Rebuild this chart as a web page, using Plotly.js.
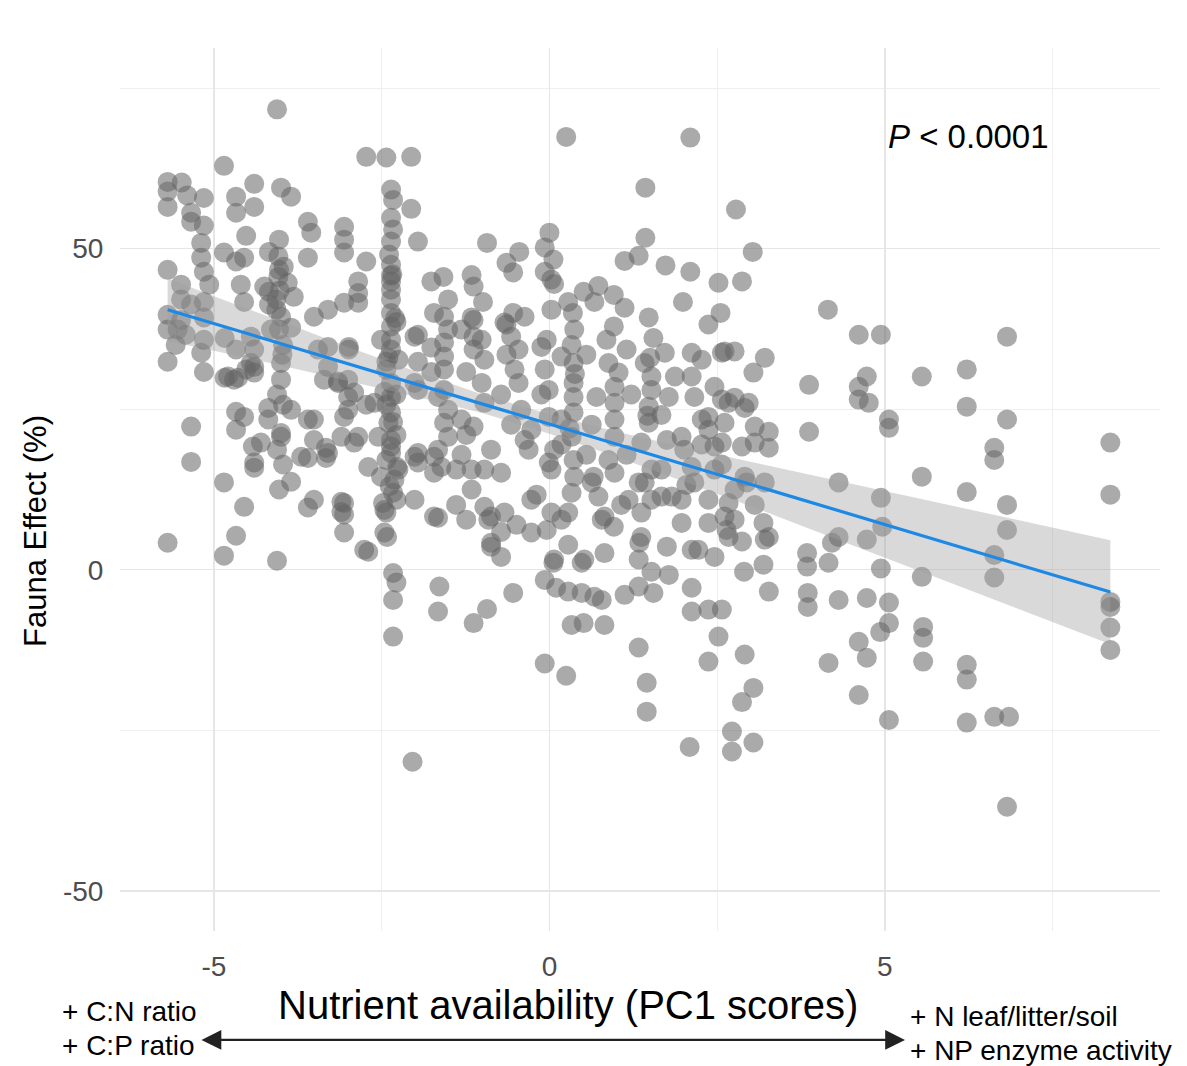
<!DOCTYPE html>
<html>
<head>
<meta charset="utf-8">
<script src="https://cdn.plot.ly/plotly-3.0.1.min.js"></script>
<style>html,body{margin:0;padding:0;background:#fff;}#chart{width:1187px;height:1066px;}</style>
</head>
<body>
<div id="chart"></div>
<script>
// PC1 scores (nutrient availability) for each observation
const pc1Scores = [
-5.69,-5.48,-5.69,-5.40,-5.69,-5.34,-5.34,-5.15,-5.15,-5.19,
-5.19,-5.69,-5.49,-5.49,-5.69,-5.49,-5.69,-5.42,-5.69,-5.15,
-5.15,-5.15,-5.15,-5.15,-5.34,-5.34,-5.69,-5.07,-5.34,-5.57,
-4.85,-4.40,-4.67,-4.67,-4.40,-4.52,-4.55,-4.85,-4.55,-4.06,
-4.00,-3.85,-3.60,-3.55,-4.18,-4.04,-3.60,-3.96,-4.04,-3.90,
-4.25,-4.07,-4.00,-3.81,-4.03,-3.51,-3.30,-3.06,-2.85,-2.85,
-4.40,-4.40,-4.00,-4.00,-3.45,-3.30,-3.15,-2.99,-3.00,-3.00,
-2.73,-4.45,-5.19,-5.54,-4.79,-4.70,-4.45,-4.64,-4.40,-4.67,
-4.55,-4.19,-4.19,-3.85,-4.00,-4.42,-4.40,-4.03,-3.85,-4.55,
-4.85,-3.60,-3.51,-3.60,-3.33,-3.33,-3.10,-3.10,-3.00,-2.85,
-3.10,-3.06,-2.70,-2.51,-2.40,-2.36,-2.25,-2.01,-2.01,-2.48,
-1.72,-1.72,-3.51,-2.99,-3.15,-3.36,-3.30,-2.51,-2.43,-2.01,
-1.96,-1.76,-1.76,-2.91,-2.61,-2.46,-4.15,-3.85,-4.30,-4.00,
-3.70,-3.30,-3.51,-4.40,-3.60,-2.91,-3.06,-3.06,-2.76,-2.46,
-2.46,-2.55,-4.67,-4.60,-4.84,-4.67,-4.84,-4.67,-4.18,-4.18,
-4.52,-4.67,-4.85,-4.06,-3.06,-2.70,-2.43,-2.42,-2.33,-2.28,
-2.33,-2.33,-2.04,-1.66,-1.64,-1.66,-1.13,-0.93,-0.54,-0.87,
-0.72,-0.91,-0.72,-0.27,-0.07,0.25,0.06,-0.07,0.10,0.28,
0.48,0.67,0.78,0.48,0.28,0.33,0.51,0.82,0.82,0.96,
1.12,1.33,1.55,1.52,1.78,1.33,1.34,1.75,1.33,1.45,
1.45,2.12,2.12,2.37,2.57,2.52,2.37,2.09,2.72,2.72,
2.22,1.97,2.87,2.90,3.27,3.19,3.21,2.91,3.04,2.87,
3.04,3.84,3.84,3.85,3.85,4.31,4.21,4.31,4.16,4.73,
4.96,4.73,4.94,5.06,5.06,4.93,4.61,4.73,4.16,4.61,
5.06,5.55,5.57,5.57,5.57,6.22,6.22,6.22,6.63,6.85,
6.82,6.63,6.63,6.82,8.36,8.36,8.36,8.36,2.76,2.64,
4.61,4.94,6.82,5.55,6.22,6.22,6.82,8.36,8.36,6.63,
6.63,5.55,6.22,6.82,4.94,5.06,5.06,4.61,4.73,4.61,
4.76,3.87,3.87,4.31,3.21,3.04,2.76,2.61,2.91,2.76,
3.06,3.27,3.27,2.87,3.06,2.91,3.21,2.76,3.06,2.78,
3.03,2.87,4.15,0.25,2.10,1.43,-0.93,0.00,-0.07,0.06,
-0.07,0.07,-0.45,-0.64,-0.54,1.43,1.33,1.12,1.73,2.10,
2.52,1.99,2.55,2.37,1.48,0.96,1.12,0.73,0.51,0.67,
0.28,0.03,-1.58,-1.51,-1.72,-1.16,-1.13,-0.99,-1.16,-0.54,
-0.37,-0.64,0.96,-2.73,-2.43,-2.06,-2.36,-2.36,-2.06,-3.06,
-3.06,-3.06,-1.96,-2.36,-2.73,-2.36,-2.85,-2.36,-2.36,-1.76,
-0.67,0.03,-2.36,-2.36,-2.36,-2.36,-2.36,-2.25,-1.96,-1.57,
-1.51,-1.57,-1.57,-1.13,-1.13,-1.13,-0.97,-0.57,-0.46,-0.52,
-0.46,-0.12,-0.07,-0.01,-2.36,-2.36,-2.36,-2.36,-2.36,-2.31,
-2.33,-2.01,-1.96,-1.66,-1.57,-1.51,-1.66,-1.61,-1.96,-1.96,
-1.72,-1.01,-0.97,-1.13,-1.16,-0.97,-0.72,-0.87,-0.37,-0.31,
-0.01,-0.01,-0.27,-0.97,-0.87,-0.67,-0.87,-2.33,-2.33,-2.39,
-2.28,-2.43,-2.28,-2.43,-2.28,-2.43,-2.28,-4.03,-4.03,-4.07,
-3.97,-4.06,-3.97,-4.06,-3.97,1.55,0.37,0.85,-0.04,0.18,
0.36,0.36,0.36,0.36,0.33,0.07,0.03,0.36,0.37,0.66,
0.33,0.73,0.28,0.03,0.52,0.07,0.82,0.88,0.97,0.97,
0.97,0.97,0.88,0.97,0.70,1.03,1.42,1.52,1.52,1.48,
1.48,1.37,1.52,1.42,1.52,1.37,1.37,1.72,2.12,1.87,
2.12,2.27,2.57,2.46,2.67,2.97,1.78,2.16,2.37,2.61,
1.97,2.37,2.01,2.46,2.12,2.46,2.57,2.16,2.94,2.67,
2.37,1.97,1.82,1.67,2.37,2.61,2.67,2.12,2.46,3.27,
3.19,1.33,1.18,0.63,-1.57,-1.57,-1.51,-1.31,-1.24,-1.01,
-0.64,-0.72,-0.42,-0.57,-0.27,-1.31,-1.39,-0.12,0.18,0.18,
0.55,0.63,0.55,1.15,1.22,1.15,1.67,1.75,2.27,2.27,
2.57,2.57,1.67,2.04,1.07,0.78,-0.19,0.18,-0.04,-0.49,
-1.16,-1.39,-1.24,-1.31,-1.24,-2.36,-2.30,-2.40,-2.33,-2.27,
0.33,0.38,0.30,1.50,1.46,-4.02,-3.98,-2.34,-2.38,0.35
];
// Fauna effect (%) for each observation (same order)
const faunaEffect = [
60.4,60.3,58.9,58.3,56.5,55.6,54.2,57.9,53.6,50.9,
48.6,46.7,44.4,42.1,39.7,38.9,37.4,36.6,32.4,46.4,
41.7,39.3,35.8,30.8,22.3,16.8,4.2,44.4,41.3,35.0,
62.9,60.1,58.1,55.6,56.5,52.0,48.6,49.4,41.7,71.7,
59.5,58.1,54.2,52.5,49.5,48.8,48.6,47.2,45.6,44.7,
44.1,42.1,39.4,42.5,37.4,39.4,40.5,41.6,41.6,43.1,
34.3,31.6,32.2,29.6,34.3,31.6,29.1,34.3,29.6,26.9,
25.7,36.3,33.8,37.4,30.1,29.6,32.2,29.9,30.7,24.6,
23.8,25.2,23.4,24.9,21.3,19.2,15.9,12.5,13.7,9.8,
13.6,23.4,20.2,17.4,17.4,19.0,10.6,9.0,24.9,20.7,
20.7,23.8,16.0,14.5,22.9,19.2,15.6,17.6,10.9,10.4,
17.6,15.1,10.9,34.7,29.3,29.6,34.7,35.8,32.4,36.3,
32.4,34.6,30.8,27.6,26.0,27.7,37.4,37.7,19.8,20.7,
17.6,18.2,23.4,16.7,9.7,19.8,10.4,5.8,3.1,5.8,
9.3,20.7,48.0,44.4,36.1,34.3,29.9,21.8,43.3,41.3,
31.2,5.3,2.2,1.4,8.6,2.8,8.9,5.1,-0.5,-2.0,
-4.7,-10.4,-29.9,8.1,-2.6,-6.5,-8.3,-6.1,-3.6,3.6,
2.0,7.8,5.9,5.8,-14.6,-16.5,1.1,-1.6,-2.8,-3.4,
-3.6,-4.2,-4.7,1.1,3.9,-8.6,-8.3,-8.6,2.6,6.7,
-3.9,-2.6,-3.6,-0.3,-0.8,1.6,4.2,3.6,-12.1,-17.6,
-22.1,-2.8,-6.5,-6.2,-6.2,-10.4,-14.3,-27.6,-25.2,-28.3,
3.1,7.3,4.4,-0.3,-3.4,0.8,4.7,-13.2,-18.4,-20.6,
-26.9,2.6,0.5,-3.6,-5.8,-4.7,4.2,5.1,1.1,4.7,
6.7,-4.4,0.2,-5.1,-8.3,-9.7,-11.2,-13.7,-14.5,-19.5,
-23.4,-1.1,-8.9,-10.6,-14.3,-14.8,-17.1,-23.8,-22.9,-22.9,
-36.9,2.3,-1.2,6.2,-5.0,-5.8,-9.0,-12.5,7.8,6.2,
36.6,36.6,36.3,30.1,31.2,25.4,23.4,19.8,11.7,19.0,
17.1,14.5,12.1,10.1,11.2,23.4,22.1,28.5,30.1,26.5,
26.0,28.8,21.5,13.6,33.0,30.7,34.0,34.0,25.2,26.8,
22.3,21.5,19.0,19.2,19.8,14.5,13.6,12.5,10.1,56.1,
49.5,44.9,40.5,67.4,67.3,59.5,50.9,52.5,50.2,48.3,
46.4,44.5,49.5,47.8,46.3,51.7,48.9,48.1,47.4,46.4,
44.7,41.7,40.0,38.2,39.3,42.8,40.8,44.2,43.3,41.7,
41.7,40.5,45.6,42.1,40.0,45.9,44.1,41.7,39.3,40.0,
39.4,38.2,37.9,64.3,64.2,64.3,59.2,54.8,56.2,53.4,
51.4,49.4,51.1,51.1,48.0,47.5,44.9,44.9,43.6,44.9,
38.5,45.2,42.1,40.0,37.9,35.8,34.3,32.7,36.6,39.4,
37.4,35.4,33.2,38.9,36.3,34.3,32.7,36.3,34.3,31.2,
29.1,34.7,31.2,28.0,29.1,26.9,24.5,20.2,18.2,14.0,
12.0,29.1,28.0,26.9,22.9,20.7,18.7,16.0,18.2,16.7,
8.3,29.1,26.0,22.3,15.6,15.6,15.1,18.7,20.2,18.7,
23.8,16.7,10.9,9.8,8.3,8.9,4.2,57.6,53.0,49.1,
38.6,31.2,27.3,25.7,21.0,17.1,10.9,51.4,46.7,40.5,
35.0,27.3,25.7,18.7,16.4,36.1,37.4,35.8,35.8,33.2,
32.2,29.1,26.9,24.5,20.7,18.7,15.6,17.1,14.5,14.5,
12.0,11.4,8.9,8.9,1.6,1.6,8.3,32.2,28.5,26.0,
23.4,20.7,17.1,15.1,26.9,30.7,32.2,30.1,28.0,25.4,
22.9,19.8,15.6,13.6,10.9,8.9,5.1,33.8,33.8,30.1,
30.1,32.7,33.8,28.5,26.0,26.0,26.9,26.9,23.8,22.9,
20.7,21.8,18.7,19.2,16.0,15.6,19.8,13.6,13.6,10.4,
10.9,10.9,11.4,11.4,7.3,8.3,5.1,3.1,2.0,5.1,
7.3,13.6,10.9,13.6,31.2,28.0,24.9,37.4,30.8,35.8,
33.5,27.3,24.9,22.6,21.8,17.9,15.6,27.3,23.4,19.5,
33.5,22.6,17.9,34.3,27.3,17.9,24.1,20.2,23.4,19.5,
26.5,16.4,15.6,13.2,10.1,7.8,11.7,7.8,6.2,7.0,
12.5,10.1,7.8,23.4,21.0,45.8,39.2,33.0,23.0,16.0,
35.0,30.5,22.0,33.0,24.0,43.5,33.5,46.0,13.0,40.0
];

// Linear fit (end points) and its confidence band
const fitX = [-5.69, 8.36];
const fitY = [40.5, -3.47];
const bandX = [-5.69, -5, -4, -3, -2, -1, 0, 1, 2, 3, 4, 5, 6, 7, 8.36];
const bandLower = [35.6, 34.1, 31.8, 29.4, 27.0, 24.4, 21.2, 17.6, 13.8, 9.9, 5.9, 1.9, -2.1, -6.1, -11.6];
const bandUpper = [45.4, 42.6, 38.7, 34.7, 30.9, 27.3, 24.2, 21.5, 19.1, 16.8, 14.5, 12.2, 9.9, 7.7, 4.6];

const xTickVals = [-5, 0, 5];
const yTickVals = [-50, 0, 50];

const FONT = '"Liberation Sans", Arial, Helvetica, sans-serif';

const traces = [
  {
    type: 'scatter', mode: 'markers', x: pc1Scores, y: faunaEffect,
    marker: {size: 20, color: 'rgba(100,100,100,0.55)', line: {width: 0}},
    hoverinfo: 'x+y', showlegend: false
  },
  {
    type: 'scatter', mode: 'lines', x: bandX, y: bandLower,
    line: {width: 0, color: 'rgba(0,0,0,0)'}, hoverinfo: 'skip', showlegend: false
  },
  {
    type: 'scatter', mode: 'lines', x: bandX, y: bandUpper,
    fill: 'tonexty', fillcolor: 'rgba(160,160,160,0.4)',
    line: {width: 0, color: 'rgba(0,0,0,0)'}, hoverinfo: 'skip', showlegend: false
  },
  {
    type: 'scatter', mode: 'lines', x: fitX, y: fitY,
    line: {width: 3.2, color: '#1E88E5'}, hoverinfo: 'skip', showlegend: false
  }
];

const layout = {
  width: 1187, height: 1066,
  paper_bgcolor: '#ffffff', plot_bgcolor: '#ffffff',
  margin: {l: 120, r: 27, t: 48, b: 135},
  font: {family: FONT, color: '#000'},
  showlegend: false,
  xaxis: {
    range: [-6.4, 9.1], tickvals: xTickVals, ticktext: xTickVals.map(String),
    showgrid: true, gridcolor: '#E6E6E6', gridwidth: 1.3,
    minor: {dtick: 2.5, tick0: 0, showgrid: true, gridcolor: '#EFEFEF', gridwidth: 1},
    zeroline: false, showline: false, ticks: 'outside', ticklen: 10, tickcolor: 'rgba(0,0,0,0)',
    tickfont: {size: 28, color: '#4D4D4D', family: FONT}
  },
  yaxis: {
    range: [-56.25, 81.25], tickvals: yTickVals, ticktext: yTickVals.map(String),
    showgrid: true, gridcolor: '#E6E6E6', gridwidth: 1.3,
    minor: {dtick: 25, tick0: 0, showgrid: true, gridcolor: '#EFEFEF', gridwidth: 1},
    zeroline: false, showline: false, ticks: 'outside', ticklen: 10, tickcolor: 'rgba(0,0,0,0)',
    tickfont: {size: 28, color: '#4D4D4D', family: FONT}
  },
  annotations: [
    {xref: 'paper', yref: 'paper', x: -0.0817, y: 0.453, text: 'Fauna Effect (%)', showarrow: false,
     textangle: -90, font: {size: 31, color: '#000', family: FONT}, xanchor: 'center', yanchor: 'middle'},
    {xref: 'x', yref: 'y', x: 6.24, y: 67.4, text: '<i>P</i> &lt; 0.0001', showarrow: false,
     font: {size: 33, color: '#000', family: FONT}, xanchor: 'center', yanchor: 'middle'},
    {xref: 'paper', yref: 'paper', x: 0.431, y: -0.0838, text: 'Nutrient availability (PC1 scores)', showarrow: false,
     font: {size: 40, color: '#000', family: FONT}, xanchor: 'center', yanchor: 'middle'},
    {xref: 'paper', yref: 'paper', x: -0.0577, y: -0.0917, text: '+ C:N ratio', showarrow: false,
     font: {size: 28, color: '#000', family: FONT}, xanchor: 'left', yanchor: 'middle'},
    {xref: 'paper', yref: 'paper', x: -0.0577, y: -0.1302, text: '+ C:P ratio', showarrow: false,
     font: {size: 28, color: '#000', family: FONT}, xanchor: 'left', yanchor: 'middle'},
    {xref: 'paper', yref: 'paper', x: 0.7577, y: -0.0963, text: '+ N leaf/litter/soil', showarrow: false,
     font: {size: 28, color: '#000', family: FONT}, xanchor: 'left', yanchor: 'middle'},
    {xref: 'paper', yref: 'paper', x: 0.7577, y: -0.1348, text: '+ NP enzyme activity', showarrow: false,
     font: {size: 28, color: '#000', family: FONT}, xanchor: 'left', yanchor: 'middle'},
    {xref: 'paper', yref: 'paper', x: 0.7548, y: -0.1234, text: '', showarrow: true,
     axref: 'pixel', ayref: 'pixel', ax: -705, ay: 0,
     arrowhead: 2, startarrowhead: 2, arrowside: 'end+start', arrowsize: 1.8, startarrowsize: 1.8,
     arrowwidth: 2.2, arrowcolor: '#222', standoff: 0, startstandoff: 0}
  ]
};

Plotly.newPlot('chart', traces, layout, {displayModeBar: false, staticPlot: true});
</script>
</body>
</html>
